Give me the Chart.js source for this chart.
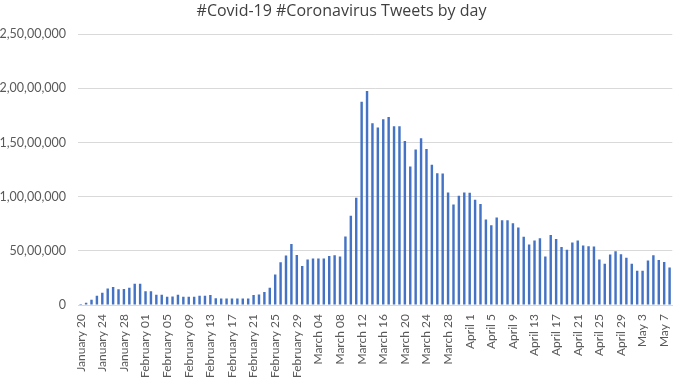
<!DOCTYPE html>
<html>
<head>
<meta charset="utf-8">
<script src="https://cdn.jsdelivr.net/npm/chart.js@4.4.1/dist/chart.umd.min.js"></script>
<style>
  body { margin: 0; background: #fff; }
  #wrap { width: 685px; height: 379px; }
</style>
</head>
<body>
<div id="wrap"><canvas id="tweets-by-day"></canvas></div>
<script>
  // Tweets per day (counts)
  const janTweets = [100000, 220000, 500000, 870000, 1130000, 1530000, 1660000, 1460000, 1480000, 1610000, 1980000, 1980000];
  const febTweets = [1290000, 1290000, 960000, 960000, 770000, 790000, 950000, 770000, 770000, 770000,
    870000, 870000, 930000, 630000, 610000, 600000, 600000, 600000, 600000, 600000,
    930000, 970000, 1220000, 1600000, 2830000, 3960000, 4570000, 5650000, 4630000];
  const marTweets = [3610000, 4200000, 4290000, 4290000, 4290000, 4540000, 4600000, 4480000, 6330000, 8240000,
    9900000, 18770000, 19750000, 16790000, 16390000, 17160000, 17350000, 16500000, 16500000, 15150000,
    12800000, 14350000, 15400000, 14400000, 12960000, 12160000, 12150000, 10400000, 9280000, 10100000, 10400000];
  const aprTweets = [10370000, 9720000, 9320000, 7900000, 7380000, 8090000, 7840000, 7840000, 7560000, 7160000,
    6300000, 5590000, 5960000, 6170000, 4480000, 6480000, 6110000, 5370000, 5120000, 5770000,
    5960000, 5500000, 5430000, 5400000, 4200000, 3820000, 4680000, 4980000, 4700000, 4360000];
  const mayTweets = [3820000, 3180000, 3180000, 4120000, 4600000, 4160000, 3980000, 3480000];

  // Category labels: month name + day (Jan-Mar zero padded like the source sheet)
  const months = ['January', 'February', 'March', 'April', 'May'];
  const firstDays = [20, 1, 1, 1, 1];
  const padDays = [true, true, true, false, false];
  const monthTweets = [janTweets, febTweets, marTweets, aprTweets, mayTweets];

  const labels = [];
  const values = [];
  monthTweets.forEach(function(arr, m) {
    arr.forEach(function(v, i) {
      const d = firstDays[m] + i;
      const ds = padDays[m] && d < 10 ? '0' + d : String(d);
      labels.push(months[m] + ' ' + ds);
      values.push(v);
    });
  });

  // Indian digit grouping, e.g. 2,50,00,000
  function inr(v) {
    const s = String(Math.round(v));
    if (s.length <= 3) return s;
    const last3 = s.slice(-3);
    const rest = s.slice(0, -3).replace(/\B(?=(\d{2})+(?!\d))/g, ',');
    return rest + ',' + last3;
  }

  const textColor = '#595959';
  const fontFamily = "Lato, 'Liberation Sans', sans-serif";

  const data = {
    labels: labels,
    datasets: [{
      label: 'Tweets',
      data: values,
      backgroundColor: '#4472C4',
      barPercentage: 0.45,
      categoryPercentage: 1
    }]
  };

  const options = {
    responsive: true,
    maintainAspectRatio: false,
    animation: false,
    layout: {
      padding: { top: 0, right: 2, bottom: 0, left: 0 }
    },
    scales: {
      x: {
        grid: { display: false },
        border: { display: true, color: '#d9d9d9' },
        ticks: {
          autoSkip: false,
          maxRotation: 90,
          minRotation: 90,
          color: textColor,
          font: { family: fontFamily, size: 12 },
          padding: 1,
          callback: function(val, i) {
            return i % 4 === 0 ? this.getLabelForValue(val) : '';
          }
        }
      },
      y: {
        min: 0,
        max: 25000000,
        grid: { color: '#d9d9d9', drawTicks: false },
        border: { display: false },
        afterFit: function(scale) { scale.width = 78; },
        ticks: {
          stepSize: 5000000,
          color: textColor,
          font: { family: fontFamily, size: 12.5 },
          padding: 12,
          callback: function(v) { return inr(v); }
        }
      }
    },
    plugins: {
      legend: { display: false },
      tooltip: { enabled: false },
      title: {
        display: true,
        text: '#Covid-19 #Coronavirus Tweets by day',
        color: '#404040',
        font: { family: "'Open Sans', sans-serif", size: 16, weight: 'normal' },
        padding: { top: 2, bottom: 13 }
      }
    }
  };

  const ctx = document.getElementById('tweets-by-day').getContext('2d');
  const tweetsChart = new Chart(ctx, {
    type: 'bar',
    data: data,
    options: options
  });
</script>
</body>
</html>
